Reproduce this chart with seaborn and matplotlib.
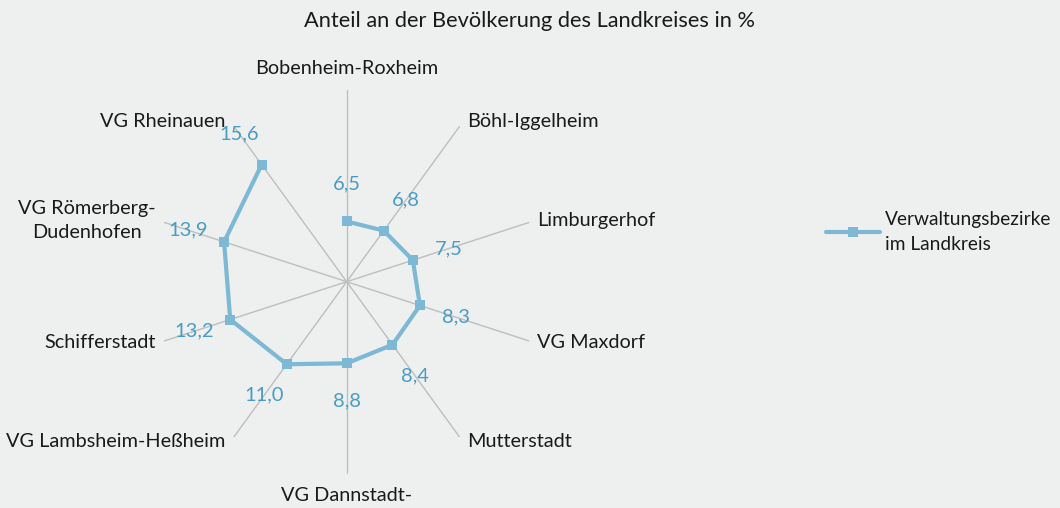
import matplotlib
matplotlib.use('Agg')
import matplotlib.pyplot as plt
import seaborn as sb
import pandas as pd
import numpy as np

#================================================
# DATA

categories = ['Bobenheim-Roxheim', 'Böhl-Iggelheim', 'Limburgerhof', 'VG Maxdorf',
              'Mutterstadt', 'VG Dannstadt-', 'VG Lambsheim-Heßheim',
              'Schifferstadt', 'VG Römerberg-\nDudenhofen', 'VG Rheinauen']
values = [6.5, 6.8, 7.5, 8.3, 8.4, 8.8, 11.0, 13.2, 13.9, 15.6]
value_labels = ['6,5', '6,8', '7,5', '8,3', '8,4', '8,8', '11,0', '13,2', '13,9', '15,6']
series_name = 'Verwaltungsbezirke\nim Landkreis'
title = 'Anteil an der Bevölkerung des Landkreises in %'

#================================================
# STYLE

bg = '#EEEFEF'
line_color = '#7DB8D4'
value_color = '#4A9CC6'
spoke_color = '#BEBEBE'
text_color = '#1a1a1a'
r_max = 20.7

sb.set_style('white')
plt.rcParams['font.family'] = ['Lato', 'DejaVu Sans']
plt.rcParams['font.size'] = 14

fig = plt.figure(figsize=(10.6, 5.08), dpi=100, facecolor=bg)
W, H = 1060, 508
cx, cy, rad = 346.7, 281.7, 192
ax = fig.add_axes([(cx - rad) / W, (H - cy - rad) / H, 2 * rad / W, 2 * rad / H],
                  projection='polar', facecolor=bg)
ax.set_theta_zero_location('N')
ax.set_theta_direction(-1)

n = len(categories)
theta = np.linspace(0, 2 * np.pi, n, endpoint=False)

#------------------------------------
# spokes only
ax.set_xticks(theta)
ax.set_xticklabels([])
ax.set_yticks([])
ax.xaxis.grid(True, color=spoke_color, linewidth=1)
ax.yaxis.grid(False)
ax.spines['polar'].set_visible(False)
ax.set_ylim(0, r_max)

#------------------------------------
# series (closed loop)
df = pd.DataFrame({'theta': np.append(theta, theta[0]),
                   'value': values + values[:1]})
sb.lineplot(data=df, x='theta', y='value', sort=False, ax=ax, color=line_color,
            linewidth=3, marker='s', markersize=7, markeredgewidth=0,
            label=series_name, legend=False)
ax.set_xlabel('')
ax.set_ylabel('')

# value labels, pushed out along the spoke
for th, v, lab in zip(theta, values, value_labels):
    ax.annotate(lab, xy=(th, v), xytext=(38 * np.sin(th), 38 * np.cos(th)),
                textcoords='offset pixels', ha='center', va='center',
                color=value_color, fontsize=14.5, annotation_clip=False)

# category labels at spoke ends
for th, cat in zip(theta, categories):
    s, c = np.sin(th), np.cos(th)
    if abs(s) < 0.01:
        ha = 'center'
        va = 'bottom' if c > 0 else 'top'
        off = (0, 13) if c > 0 else (0, -13)
    else:
        ha = 'left' if s > 0 else 'right'
        va = 'center'
        off = (8 * np.sign(s), 6 * c)
    ax.annotate(cat, xy=(th, r_max), xytext=off, textcoords='offset pixels',
                ha=ha, va=va, multialignment='center', color=text_color,
                fontsize=14.3, linespacing=1.45, annotation_clip=False)

#------------------------------------
fig.text(0.5, 1 - 21 / H, title, ha='center', va='center', fontsize=15.7, color=text_color)

handles, labels = ax.get_legend_handles_labels()
leg = fig.legend(handles, labels, loc='upper left', bbox_to_anchor=(826 / W, 1 - 211 / H),
                 frameon=False, fontsize=13.8, handlelength=2.8, handletextpad=0.26,
                 borderpad=0, borderaxespad=0, labelcolor=text_color)
for t in leg.get_texts():
    t.set_linespacing(1.55)

fig.savefig('out.png', dpi=100, facecolor=bg)
